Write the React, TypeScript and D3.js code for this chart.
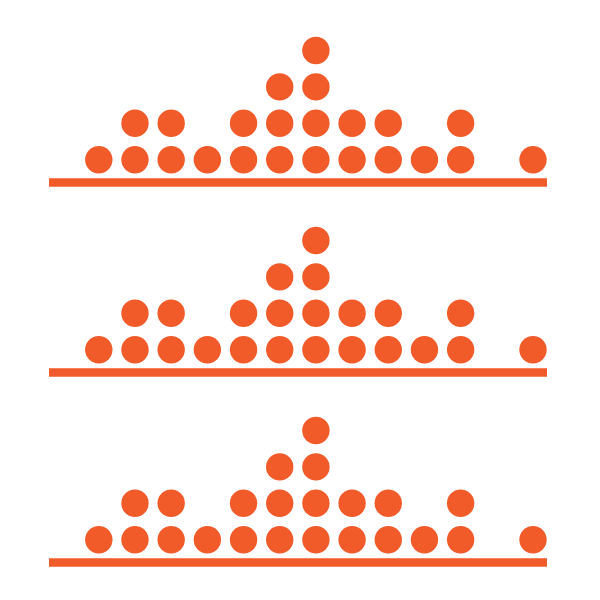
import * as d3 from 'd3';
import React, { useEffect, useRef } from 'react';

// one observation per dot, value = bin index along the line
const observations = [
    0,
    1, 1,
    2, 2,
    3,
    4, 4,
    5, 5, 5,
    6, 6, 6, 6,
    7, 7,
    8, 8,
    9,
    10, 10,
    12,
];
const panels = ['a', 'b', 'c'];
const bins = d3.range(0, 13);

const COLOR = '#f15a29';

export default () => {
    const ref = useRef<any>();

    useEffect(() => {
        const svg = d3.select<any, any>(ref.current);
        svg.selectAll('*').remove();

        const xScale = d3.scaleLinear()
            .domain([0, 12])
            .range([98.8, 533]);

        const panelScale = d3.scaleBand<string>()
            .domain(panels)
            .range([-7.5, 562.5]);

        // stack level per bin
        const counts = d3.rollup(observations, v => v.length, d => d);
        const dots: { v: number, k: number }[] = [];
        bins.forEach(b => {
            const n = counts.get(b) || 0;
            for (let k = 0; k < n; k++) dots.push({ v: b, k });
        });

        const yStack = d3.scaleLinear()
            .domain([0, 1])
            .range([-22.8, -59.2]);

        const g = svg.selectAll('g.panel')
            .data(panels)
            .join('g')
            .attr('class', 'panel')
            .attr('transform', (d: string) => `translate(0, ${(panelScale(d) as number) + panelScale.bandwidth()})`);

        g.append('line')
            .attr('x1', 49)
            .attr('x2', 547)
            .attr('y1', 0)
            .attr('y2', 0)
            .attr('stroke', COLOR)
            .attr('stroke-width', 8.4);

        g.selectAll('circle')
            .data(dots)
            .join('circle')
            .attr('cx', (d: any) => xScale(d.v))
            .attr('cy', (d: any) => yStack(d.k))
            .attr('r', 13.7)
            .attr('fill', COLOR);
    });

    return (
        <svg ref={ref} width={600} height={600}
            style={{ position: 'absolute', left: 0, top: 0, background: '#fff' }} />
    );
}
